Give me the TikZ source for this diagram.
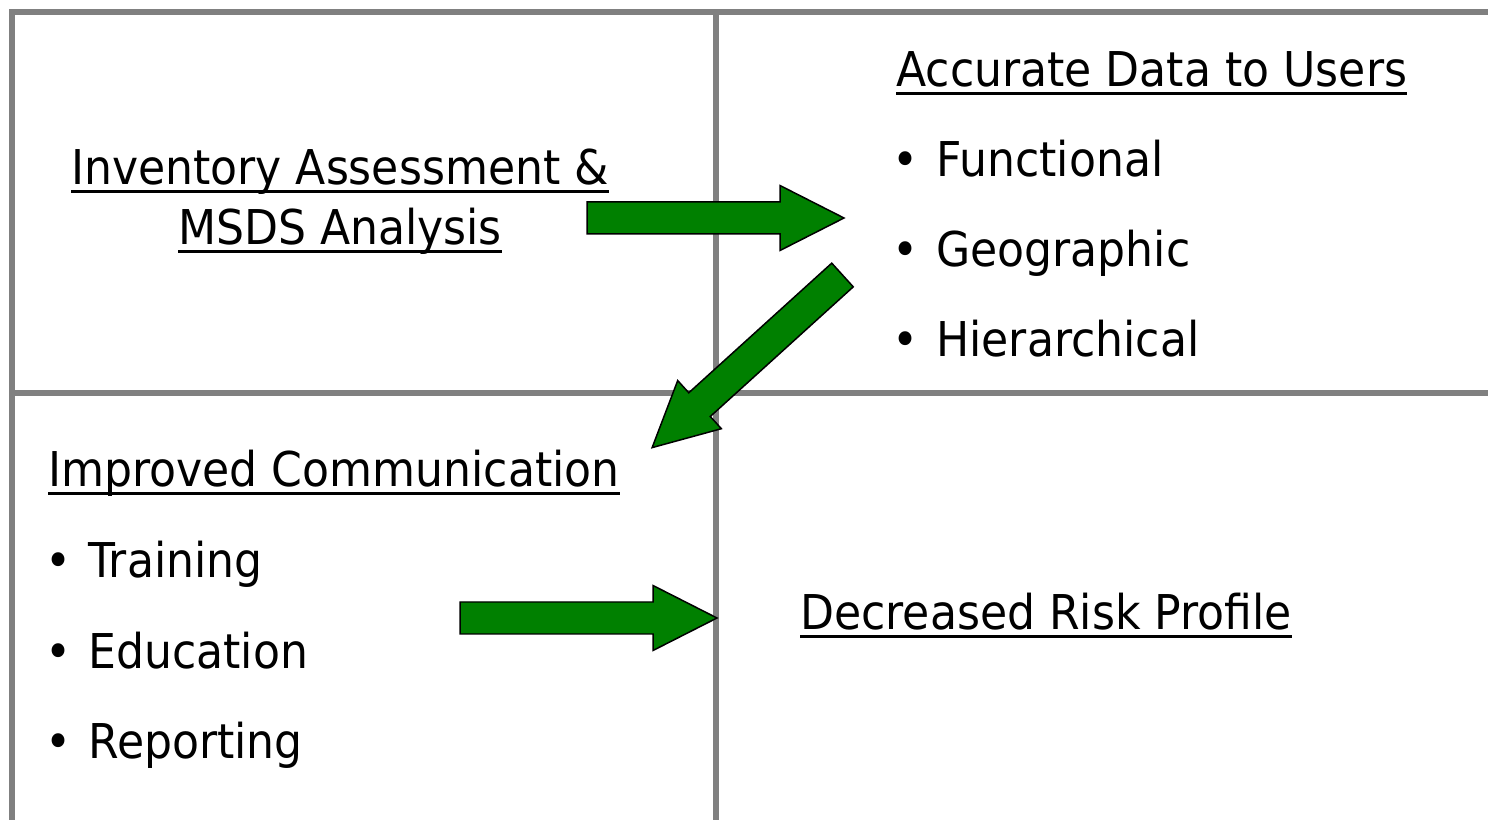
\documentclass[tikz,border=0pt]{standalone}
\usepackage{fontspec}
\setmainfont[FakeStretch=0.92]{DejaVu Sans}
\usetikzlibrary{calc}
\definecolor{arrowgreen}{RGB}{0,128,0}
\newsavebox\ulbox
\newcommand\ulbar[1]{\sbox\ulbox{#1}\rlap{\rule[-4.8pt]{\wd\ulbox}{2pt}}\usebox\ulbox}
\tikzset{gridline/.style={draw=gray,line width=0.12cm,line join=miter},
txt/.style={inner sep=0pt,font=\fontsize{27.3}{33}\selectfont},
head/.style={txt,anchor=base},
item/.style={txt,anchor=base west},
bul/.style={txt,anchor=base},
blockarrow/.pic={
\draw[fill=arrowgreen,line width=0.85pt,line join=miter] (0,-16) -- (193,-16) -- (193,-32.5)
-- (257,0) -- (193,32.5) -- (193,16) -- (0,16) -- cycle;
}}

\begin{document}
\begin{tikzpicture}[x=0.02cm,y=-0.02cm]
\useasboundingbox (0,0) rectangle (1488,820);
% quadrant lines
\draw[gridline] (1488,12) -- (12,12) -- (12,820);
\draw[gridline] (716,12) -- (716,820);
\draw[gridline] (12,393) -- (1488,393);

% upper left
\node[head] (inv) at (340,185) {\ulbar{Inventory Assessment \&}};
\node[head] (msds) at (340,245) {\ulbar{MSDS Analysis}};

% upper right
\node[item] (acc) at (896,87) {\ulbar{Accurate Data to Users}};
\foreach \txt [count=\i] in {Functional,Geographic,Hierarchical}{
\node[bul] (ub\i) at (905.5,87+90*\i) {\textbullet};
\node[item] (ut\i) at (936,87+90*\i) {\txt};
}

% lower left
\node[item] (imp) at (48,487) {\ulbar{Improved Communication}};
\foreach \txt [count=\i] in {Training,Education,Reporting}{
\node[bul] (lb\i) at (58.5,487+90.5*\i) {\textbullet};
\node[item] (lt\i) at (88,487+90.5*\i) {\txt};
}

% lower right
\node[item] (risk) at (800,630) {\ulbar{Decreased Risk Profile}};

% flow arrows
\pic (arrA) at (587,218) {blockarrow};
\pic[rotate=-137.8] (arrB) at (842.5,275) {blockarrow};
\pic (arrC) at (460,618) {blockarrow};
\end{tikzpicture}
\end{document}
